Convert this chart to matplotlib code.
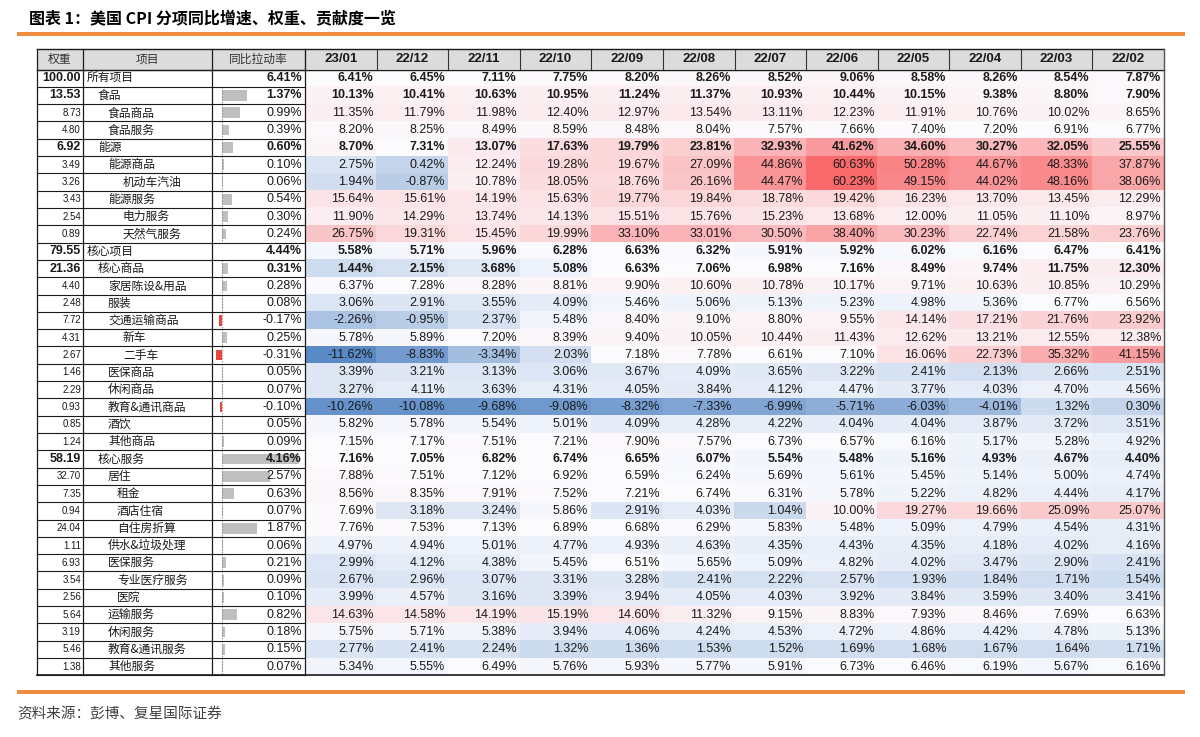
import numpy as np
import matplotlib.pyplot as plt
from matplotlib.colors import LinearSegmentedColormap, TwoSlopeNorm
from matplotlib.patches import Rectangle

plt.rcParams['font.family'] = ['Liberation Sans', 'Noto Sans CJK SC', 'DejaVu Sans']
CJK = ['Noto Sans CJK SC', 'DejaVu Sans']

# данные таблицы
months = ['23/01', '22/12', '22/11', '22/10', '22/09', '22/08',
          '22/07', '22/06', '22/05', '22/04', '22/03', '22/02']

items = ['所有项目', '食品', '食品商品', '食品服务', '能源', '能源商品', '机动车汽油',
         '能源服务', '电力服务', '天然气服务', '核心项目', '核心商品', '家居陈设&用品',
         '服装', '交通运输商品', '新车', '二手车', '医保商品', '休闲商品', '教育&通讯商品',
         '酒饮', '其他商品', '核心服务', '居住', '租金', '酒店住宿', '自住房折算',
         '供水&垃圾处理', '医保服务', '专业医疗服务', '医院', '运输服务', '休闲服务',
         '教育&通讯服务', '其他服务']

weights = [100.00, 13.53, 8.73, 4.80, 6.92, 3.49, 3.26, 3.43, 2.54, 0.89, 79.55,
           21.36, 4.40, 2.48, 7.72, 4.31, 2.67, 1.46, 2.29, 0.93, 0.85, 1.24, 58.19,
           32.70, 7.35, 0.94, 24.04, 1.11, 6.93, 3.54, 2.56, 5.64, 3.19, 5.46, 1.38]

contrib = [6.41, 1.37, 0.99, 0.39, 0.60, 0.10, 0.06, 0.54, 0.30, 0.24, 4.44, 0.31,
           0.28, 0.08, -0.17, 0.25, -0.31, 0.05, 0.07, -0.10, 0.05, 0.09, 4.16, 2.57,
           0.63, 0.07, 1.87, 0.06, 0.21, 0.09, 0.10, 0.82, 0.18, 0.15, 0.07]

# уровень вложенности и жирные строки
levels = [0, 1, 2, 2, 1, 2, 4, 2, 4, 4, 0, 1, 2, 2, 2, 4, 4, 2, 2, 2, 2, 2, 1, 2,
          3, 3, 3, 2, 2, 3, 3, 2, 2, 2, 2]
bold_rows = [0, 1, 4, 10, 11, 22]
no_bar_rows = [0, 10]

yoy = [
    [6.41, 6.45, 7.11, 7.75, 8.20, 8.26, 8.52, 9.06, 8.58, 8.26, 8.54, 7.87],
    [10.13, 10.41, 10.63, 10.95, 11.24, 11.37, 10.93, 10.44, 10.15, 9.38, 8.80, 7.90],
    [11.35, 11.79, 11.98, 12.40, 12.97, 13.54, 13.11, 12.23, 11.91, 10.76, 10.02, 8.65],
    [8.20, 8.25, 8.49, 8.59, 8.48, 8.04, 7.57, 7.66, 7.40, 7.20, 6.91, 6.77],
    [8.70, 7.31, 13.07, 17.63, 19.79, 23.81, 32.93, 41.62, 34.60, 30.27, 32.05, 25.55],
    [2.75, 0.42, 12.24, 19.28, 19.67, 27.09, 44.86, 60.63, 50.28, 44.67, 48.33, 37.87],
    [1.94, -0.87, 10.78, 18.05, 18.76, 26.16, 44.47, 60.23, 49.15, 44.02, 48.16, 38.06],
    [15.64, 15.61, 14.19, 15.63, 19.77, 19.84, 18.78, 19.42, 16.23, 13.70, 13.45, 12.29],
    [11.90, 14.29, 13.74, 14.13, 15.51, 15.76, 15.23, 13.68, 12.00, 11.05, 11.10, 8.97],
    [26.75, 19.31, 15.45, 19.99, 33.10, 33.01, 30.50, 38.40, 30.23, 22.74, 21.58, 23.76],
    [5.58, 5.71, 5.96, 6.28, 6.63, 6.32, 5.91, 5.92, 6.02, 6.16, 6.47, 6.41],
    [1.44, 2.15, 3.68, 5.08, 6.63, 7.06, 6.98, 7.16, 8.49, 9.74, 11.75, 12.30],
    [6.37, 7.28, 8.28, 8.81, 9.90, 10.60, 10.78, 10.17, 9.71, 10.63, 10.85, 10.29],
    [3.06, 2.91, 3.55, 4.09, 5.46, 5.06, 5.13, 5.23, 4.98, 5.36, 6.77, 6.56],
    [-2.26, -0.95, 2.37, 5.48, 8.40, 9.10, 8.80, 9.55, 14.14, 17.21, 21.76, 23.92],
    [5.78, 5.89, 7.20, 8.39, 9.40, 10.05, 10.44, 11.43, 12.62, 13.21, 12.55, 12.38],
    [-11.62, -8.83, -3.34, 2.03, 7.18, 7.78, 6.61, 7.10, 16.06, 22.73, 35.32, 41.15],
    [3.39, 3.21, 3.13, 3.06, 3.67, 4.09, 3.65, 3.22, 2.41, 2.13, 2.66, 2.51],
    [3.27, 4.11, 3.63, 4.31, 4.05, 3.84, 4.12, 4.47, 3.77, 4.03, 4.70, 4.56],
    [-10.26, -10.08, -9.68, -9.08, -8.32, -7.33, -6.99, -5.71, -6.03, -4.01, 1.32, 0.30],
    [5.82, 5.78, 5.54, 5.01, 4.09, 4.28, 4.22, 4.04, 4.04, 3.87, 3.72, 3.51],
    [7.15, 7.17, 7.51, 7.21, 7.90, 7.57, 6.73, 6.57, 6.16, 5.17, 5.28, 4.92],
    [7.16, 7.05, 6.82, 6.74, 6.65, 6.07, 5.54, 5.48, 5.16, 4.93, 4.67, 4.40],
    [7.88, 7.51, 7.12, 6.92, 6.59, 6.24, 5.69, 5.61, 5.45, 5.14, 5.00, 4.74],
    [8.56, 8.35, 7.91, 7.52, 7.21, 6.74, 6.31, 5.78, 5.22, 4.82, 4.44, 4.17],
    [7.69, 3.18, 3.24, 5.86, 2.91, 4.03, 1.04, 10.00, 19.27, 19.66, 25.09, 25.07],
    [7.76, 7.53, 7.13, 6.89, 6.68, 6.29, 5.83, 5.48, 5.09, 4.79, 4.54, 4.31],
    [4.97, 4.94, 5.01, 4.77, 4.93, 4.63, 4.35, 4.43, 4.35, 4.18, 4.02, 4.16],
    [2.99, 4.12, 4.38, 5.45, 6.51, 5.65, 5.09, 4.82, 4.02, 3.47, 2.90, 2.41],
    [2.67, 2.96, 3.07, 3.31, 3.28, 2.41, 2.22, 2.57, 1.93, 1.84, 1.71, 1.54],
    [3.99, 4.57, 3.16, 3.39, 3.94, 4.05, 4.03, 3.92, 3.84, 3.59, 3.40, 3.41],
    [14.63, 14.58, 14.19, 15.19, 14.60, 11.32, 9.15, 8.83, 7.93, 8.46, 7.69, 6.63],
    [5.75, 5.71, 5.38, 3.94, 4.06, 4.24, 4.53, 4.72, 4.86, 4.42, 4.78, 5.13],
    [2.77, 2.41, 2.24, 1.32, 1.36, 1.53, 1.52, 1.69, 1.68, 1.67, 1.64, 1.71],
    [5.34, 5.55, 6.49, 5.76, 5.93, 5.77, 5.91, 6.73, 6.46, 6.19, 5.67, 6.16],
]
vals = np.array(yoy)
n = len(items)

# геометрия в пикселях
W, H = 1200, 737
X0, XW, XI, XC, X1 = 37, 83, 212, 305, 1164
YH, Y0, RH = 49, 69.5, 17.31
Y1 = Y0 + n * RH
colw = (X1 - XC) / len(months)
indent = {0: 87, 1: 98, 2: 108, 3: 117, 4: 123}

fig = plt.figure(figsize=(12, 7.37), dpi=100)

# столбики вклада
bax = fig.add_axes([XI / W, 1 - Y1 / H, (XC - XI) / W, (Y1 - Y0) / H], zorder=0)
bax.set_xlim(-0.54, 4.49)
bax.set_ylim(n - 0.5, -0.5)
bax.axis('off')
bar_idx = [i for i in range(n) if i not in no_bar_rows]
bar_vals = [contrib[i] for i in bar_idx]
bar_cols = ['#e8453c' if v < 0 else '#bfbfbf' for v in bar_vals]
bax.barh(bar_idx, bar_vals, height=0.62, color=bar_cols, edgecolor='none')
for i in bar_idx:
    bax.plot([0, 0], [i - 0.5, i + 0.5], color='#7f7f7f', lw=0.8, ls=':')

ax = fig.add_axes([0, 0, 1, 1], zorder=1)
ax.patch.set_visible(False)

# тепловая карта
cmap = LinearSegmentedColormap.from_list('bwr_xl', ['#5A8AC6', '#FCFCFF', '#F8696B'])
norm = TwoSlopeNorm(vmin=vals.min(), vcenter=np.percentile(vals, 50), vmax=vals.max())
ax.imshow(vals, cmap=cmap, norm=norm, extent=[XC, X1, Y1, Y0], aspect='auto',
          interpolation='nearest', zorder=1)

ax.set_xlim(0, W)
ax.set_ylim(H, 0)
ax.axis('off')

# заголовок и источник
ax.text(29, 18, '图表 1：美国 CPI 分项同比增速、权重、贡献度一览', fontsize=11.5,
        fontweight='bold', family=CJK, va='center', ha='left')
ax.plot([17, 1185], [33.5, 33.5], color='#EE8D3F', lw=2.9, solid_capstyle='butt')
ax.plot([17, 1185], [692, 692], color='#EE8D3F', lw=2.9, solid_capstyle='butt')
ax.text(17, 714, '资料来源：彭博、复星国际证券', fontsize=10.5, family=CJK,
        color='#404040', va='center', ha='left')

# шапка
ax.add_patch(Rectangle((X0, YH), X1 - X0, Y0 - YH, fc='#dcdcdc', ec='none', zorder=0))
yc = (YH + Y0) / 2
ax.text((X0 + XW) / 2, yc, '权重', family=CJK, fontsize=8.5, ha='center', va='center', color='#333333')
ax.text((XW + XI) / 2, yc, '项目', family=CJK, fontsize=8.5, ha='center', va='center', color='#333333')
ax.text((XI + XC) / 2, yc, '同比拉动率', family=CJK, fontsize=8.5, ha='center', va='center', color='#333333')
for j, m in enumerate(months):
    ax.text(XC + (j + 0.5) * colw, yc, m, fontsize=9.5, fontweight='bold',
            ha='center', va='center', color='#1a1a1a')
    ax.plot([XC + j * colw] * 2, [YH, Y0], color='#333333', lw=0.8)

# строки
for i in range(n):
    y = Y0 + (i + 0.5) * RH
    b = i in bold_rows
    fw = 'bold' if b else 'normal'
    ax.text(81, y, f'{weights[i]:.2f}', ha='right', va='center',
            fontsize=9 if b else 7, fontweight=fw, color='#1a1a1a')
    ax.text(indent[levels[i]], y, items[i], family=CJK, fontsize=8.5, ha='left',
            va='center', color='#1a1a1a')
    ax.text(302, y, f'{contrib[i]:.2f}%', ha='right', va='center', fontsize=9,
            fontweight=fw, color='#1a1a1a')
    for j in range(len(months)):
        ax.text(XC + (j + 1) * colw - 3, y, f'{vals[i, j]:.2f}%', ha='right',
                va='center', fontsize=9, fontweight=fw, color='#1a1a1a')

# сетка левой части
for k in range(n + 1):
    yy = Y0 + k * RH
    ax.plot([X0, XC], [yy, yy], color='#1a1a1a', lw=0.8)
for xx in [X0, XW, XI, XC]:
    ax.plot([xx, xx], [YH, Y1], color='#1a1a1a', lw=0.9)
ax.plot([X0, X1], [YH, YH], color='#1a1a1a', lw=1.0)
ax.plot([X0, X1], [Y0, Y0], color='#1a1a1a', lw=1.0)
ax.plot([X0, X1], [Y1, Y1], color='#1a1a1a', lw=1.2)
ax.plot([X1, X1], [YH, Y1], color='#555555', lw=1.0)

fig.savefig('out.png', dpi=100)
